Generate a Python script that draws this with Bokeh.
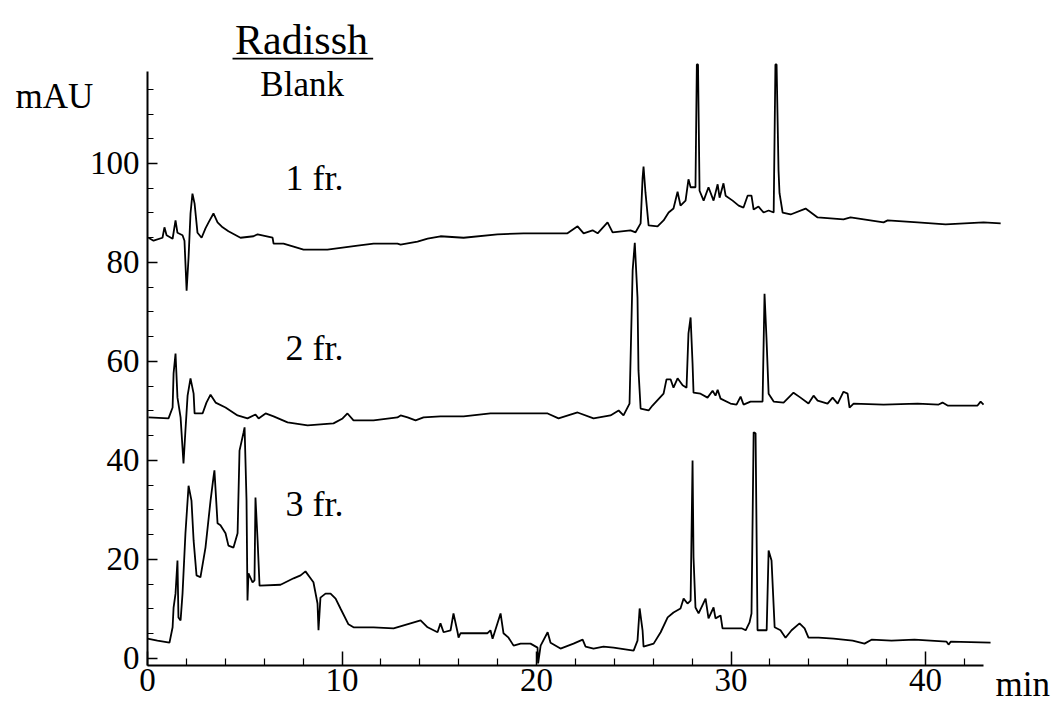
from bokeh.plotting import figure
from bokeh.models import Range1d, FixedTicker, Label
from bokeh.embed import file_html
from bokeh.resources import INLINE

# ---- data (retention time in min, signal in mAU as drawn) ----
t1 = [0.05, 0.31, 0.77, 0.87, 0.98, 1.29, 1.44, 1.54, 1.80, 1.90, 2.01, 2.11, 2.21, 2.31, 2.42,
      2.57, 2.78, 2.98, 3.14, 3.39, 3.60, 3.86, 4.16, 4.78, 5.45, 5.66, 6.43, 6.48, 6.99, 7.51,
      8.02, 9.25, 10.80, 11.62, 12.85, 13.01, 13.88, 14.40, 15.06, 16.25, 17.99, 19.33, 20.57,
      21.59, 22.11, 22.42, 22.88, 23.14, 23.65, 23.91, 24.83, 25.09, 25.35, 25.45, 25.50, 25.60,
      25.76, 26.22, 26.53, 26.79, 27.04, 27.25, 27.40, 27.66, 27.81, 27.92, 28.17, 28.24, 28.30,
      28.38, 28.59, 28.84, 29.10, 29.31, 29.41, 29.61, 29.72, 30.08, 30.39, 30.64, 30.85, 31.05,
      31.16, 31.41, 31.67, 31.93, 32.19, 32.28, 32.34, 32.44, 32.49, 32.65, 33.06, 33.83, 34.45,
      35.78, 36.14, 37.84, 38.05, 39.59, 41.03, 42.98, 43.86]
y1 = [85.0, 84.4, 85.0, 87.1, 85.5, 84.8, 88.5, 86.0, 85.5, 84.4, 74.3, 81.0, 89.9, 93.9, 91.9,
      86.0, 85.0, 86.9, 88.1, 89.9, 88.1, 87.1, 86.3, 85.0, 85.3, 85.7, 85.0, 83.8, 83.8, 83.2,
      82.6, 82.6, 83.4, 83.8, 83.8, 83.6, 84.2, 84.8, 85.3, 85.0, 85.7, 85.9, 85.9,
      85.9, 87.3, 85.9, 86.5, 85.9, 88.1, 86.1, 86.5, 86.1, 87.9, 97.0, 99.4, 94.1,
      87.5, 87.3, 88.5, 90.1, 90.9, 94.3, 91.5, 92.5, 96.8, 95.2, 95.2, 120.0, 120.0,
      94.5, 92.5, 95.2, 92.5, 95.8, 93.1, 96.0, 93.5, 92.5, 91.5, 91.1, 93.5, 93.5,
      90.7, 91.3, 90.1, 90.5, 90.1, 120.0, 120.0, 98.6, 94.0, 90.1, 89.7, 90.9, 89.1,
      88.7, 89.1, 88.1, 88.5, 88.1, 87.7, 88.1, 87.9]

t2 = [0.05, 1.08, 1.29, 1.34, 1.44, 1.54, 1.70, 1.85, 1.95, 2.06, 2.21, 2.37, 2.42, 2.83, 3.03,
      3.24, 3.50, 4.01, 4.63, 5.14, 5.55, 5.71, 6.07, 6.48, 7.20, 8.23, 9.56, 10.03, 10.28, 10.59,
      11.62, 12.85, 13.01, 13.37, 13.78, 14.19, 15.06, 16.25, 17.63, 19.07, 20.57, 21.13, 22.11,
      22.93, 23.80, 24.22, 24.47, 24.78, 24.94, 25.05, 25.19, 25.24, 25.35, 25.76, 25.96, 26.53,
      26.68, 26.89, 27.04, 27.25, 27.51, 27.71, 27.81, 27.92, 28.02, 28.07, 28.43, 28.79, 29.05,
      29.20, 29.31, 29.46, 29.97, 30.28, 30.49, 30.64, 31.00, 31.62, 31.72, 31.82, 31.93, 32.19,
      32.70, 33.21, 33.57, 33.98, 34.24, 34.45, 34.96, 35.22, 35.48, 35.78, 35.99, 36.09, 36.30,
      37.84, 39.59, 40.67, 40.87, 41.13, 42.67, 42.83, 42.98]
y2 = [48.7, 48.5, 50.7, 57.6, 61.6, 52.7, 48.7, 39.4, 46.1, 53.1, 56.6, 53.5, 49.5, 49.5, 51.7,
      53.3, 51.7, 50.7, 49.1, 48.5, 49.3, 48.5, 49.5, 48.9, 47.7, 47.1, 47.5, 48.5, 49.5, 48.1,
      48.1, 48.7, 49.1, 48.7, 48.1, 48.7, 48.9, 48.9, 49.5, 49.5, 49.5, 48.5, 49.7,
      48.5, 49.1, 50.1, 49.1, 51.5, 78.4, 84.0, 72.9, 58.2, 50.5, 50.1, 51.1, 53.5,
      56.4, 56.4, 54.7, 56.6, 55.2, 54.7, 65.7, 68.9, 59.6, 53.7, 53.5, 52.7, 54.1,
      53.1, 54.3, 52.5, 51.5, 51.3, 52.9, 51.3, 51.9, 51.9, 73.7, 64.8, 53.5, 51.9,
      51.7, 53.7, 52.7, 51.5, 53.1, 52.1, 51.5, 52.7, 51.5, 53.9, 53.5, 50.7, 51.5,
      51.3, 51.5, 51.3, 51.7, 51.1, 51.1, 51.9, 51.3]

t3 = [0.0, 0.51, 1.13, 1.29, 1.34, 1.44, 1.54, 1.59, 1.70, 1.80, 1.95, 2.11, 2.26, 2.37, 2.52,
      2.72, 2.98, 3.24, 3.39, 3.44, 3.60, 3.75, 4.01, 4.16, 4.42, 4.63, 4.73, 4.94, 4.99, 5.09,
      5.14, 5.19, 5.40, 5.50, 5.55, 5.66, 5.76, 6.84, 7.51, 7.87, 8.12, 8.38, 8.53, 8.74, 8.79,
      8.89, 9.15, 9.41, 9.67, 9.92, 10.33, 10.59, 11.62, 12.65, 14.04, 14.40, 14.91, 15.06, 15.22,
      15.58, 15.73, 15.94, 15.99, 16.09, 17.48, 17.63, 17.74, 18.15, 18.30, 18.56, 18.82, 19.18,
      19.69, 20.05, 20.08, 20.21, 20.57, 20.72, 21.23, 21.90, 22.37, 22.52, 22.93, 23.44, 23.96,
      24.99, 25.19, 25.30, 25.45, 25.50, 26.02, 26.38, 26.74, 27.04, 27.40, 27.56, 27.76, 27.92,
      28.02, 28.07, 28.17, 28.33, 28.69, 28.84, 29.10, 29.20, 29.46, 29.56, 30.54, 30.75, 30.95,
      31.05, 31.16, 31.26, 31.36, 31.83, 31.93, 32.08, 32.24, 32.54, 32.80, 33.11, 33.52, 33.78,
      33.98, 34.50, 35.27, 36.25, 36.86, 37.22, 38.25, 39.43, 41.08, 41.18, 41.29, 43.34]
y3 = [4.0, 3.6, 3.2, 6.3, 10.3, 13.1, 19.8, 8.3, 7.7, 13.1, 25.3, 34.9, 31.9, 23.8, 16.8,
      16.4, 22.4, 31.9, 36.6, 38.0, 27.3, 26.9, 25.3, 22.8, 22.4, 25.3, 42.0, 45.7, 46.7, 31.9,
      11.7, 17.2, 15.4, 15.8, 32.5, 23.8, 14.7, 14.9, 16.2, 16.8, 17.6, 16.2, 15.4, 11.1, 5.7,
      12.3, 13.1, 13.1, 12.1, 10.1, 6.9, 6.3, 6.3, 6.1, 7.7, 6.3, 5.3, 7.1, 5.3,
      5.7, 9.1, 5.3, 4.2, 5.1, 5.1, 5.7, 4.0, 9.1, 5.1, 4.2, 2.6, 3.0,
      3.0, 2.2, -1.0, 2.6, 5.3, 3.2, 2.0, 3.0, 3.8, 2.4, 2.0, 2.4, 2.2,
      1.6, 3.6, 10.1, 5.7, 2.4, 3.0, 5.3, 8.3, 9.3, 10.1, 12.1, 11.1, 11.7,
      40.0, 20.4, 10.3, 9.1, 12.1, 8.1, 10.3, 8.1, 8.7, 6.1, 6.1, 5.7, 7.3,
      9.1, 45.7, 45.5, 5.7, 5.7, 21.8, 19.8, 6.3, 5.7, 4.2, 5.7, 7.1, 6.1,
      4.2, 4.2, 4.0, 3.6, 3.0, 3.8, 3.6, 3.8, 3.4, 2.8, 3.4, 3.2]

x_major = [0, 10, 20, 30, 40]
x_minor = [2, 4, 6, 8, 12, 14, 16, 18, 22, 24, 26, 28, 32, 34, 36, 38, 42]
y_major = [0, 20, 40, 60, 80, 100]
y_minor = [5, 10, 15, 25, 30, 35, 45, 50, 55, 65, 70, 75, 85, 90, 95, 105, 110, 115]

SERIF = "Liberation Serif"

# frame spans the whole canvas; axes are pinned at their data positions
p = figure(width=1056, height=711, output_backend="svg", toolbar_location=None,
           x_range=Range1d(-7.558, 46.73), y_range=Range1d(-10.71, 132.93),
           min_border=0, min_border_left=0, min_border_right=0,
           min_border_top=0, min_border_bottom=0)
p.xgrid.visible = False
p.ygrid.visible = False
p.outline_line_color = None
p.background_fill_color = "white"
p.border_fill_color = "white"

for ax in (p.xaxis[0], p.yaxis[0]):
    ax.major_label_text_font = SERIF
    ax.major_label_text_font_size = "33px"
    ax.major_label_text_color = "black"
    ax.major_tick_out = 0
    ax.minor_tick_out = 0
    ax.major_tick_line_color = "black"
    ax.minor_tick_line_color = "black"
    ax.major_tick_line_width = 1.5
    ax.minor_tick_line_width = 1.2
    ax.axis_line_color = "black"
    ax.axis_line_width = 2

p.xaxis.ticker = FixedTicker(ticks=x_major, minor_ticks=x_minor)
p.yaxis.ticker = FixedTicker(ticks=y_major, minor_ticks=y_minor)
p.xaxis.fixed_location = -1.4
p.yaxis.fixed_location = 0
p.xaxis.bounds = (0, 43.0)
p.yaxis.bounds = (-1.4, 118.5)
p.xaxis.major_tick_in = 14
p.xaxis.minor_tick_in = 7
p.yaxis.major_tick_in = 10
p.yaxis.minor_tick_in = 6
p.xaxis.major_label_standoff = 4
p.yaxis.major_label_standoff = 8

for tx, ty in ((t1, y1), (t2, y2), (t3, y3)):
    p.line(tx, ty, line_color="black", line_width=1.8)

def lab(x, y, text, size="35px"):
    p.add_layout(Label(x=x, y=y, text=text, text_font=SERIF, text_font_size=size,
                       text_color="black", text_baseline="alphabetic", text_align="left"))

lab(4.5, 125.0, "Radissh", "42px")
p.segment(x0=[4.37], y0=[121.2], x1=[11.6], y1=[121.2], line_color="black", line_width=1.8)
lab(-6.79, 113.6, "mAU")
lab(5.8, 115.9, "Blank")
lab(7.1, 97.0, "1 fr.", "36px")
lab(7.1, 62.8, "2 fr.", "36px")
lab(7.1, 31.3, "3 fr.", "36px")
lab(43.6, -5.3, "min")

open("out.html", "w").write(file_html(p, INLINE))
